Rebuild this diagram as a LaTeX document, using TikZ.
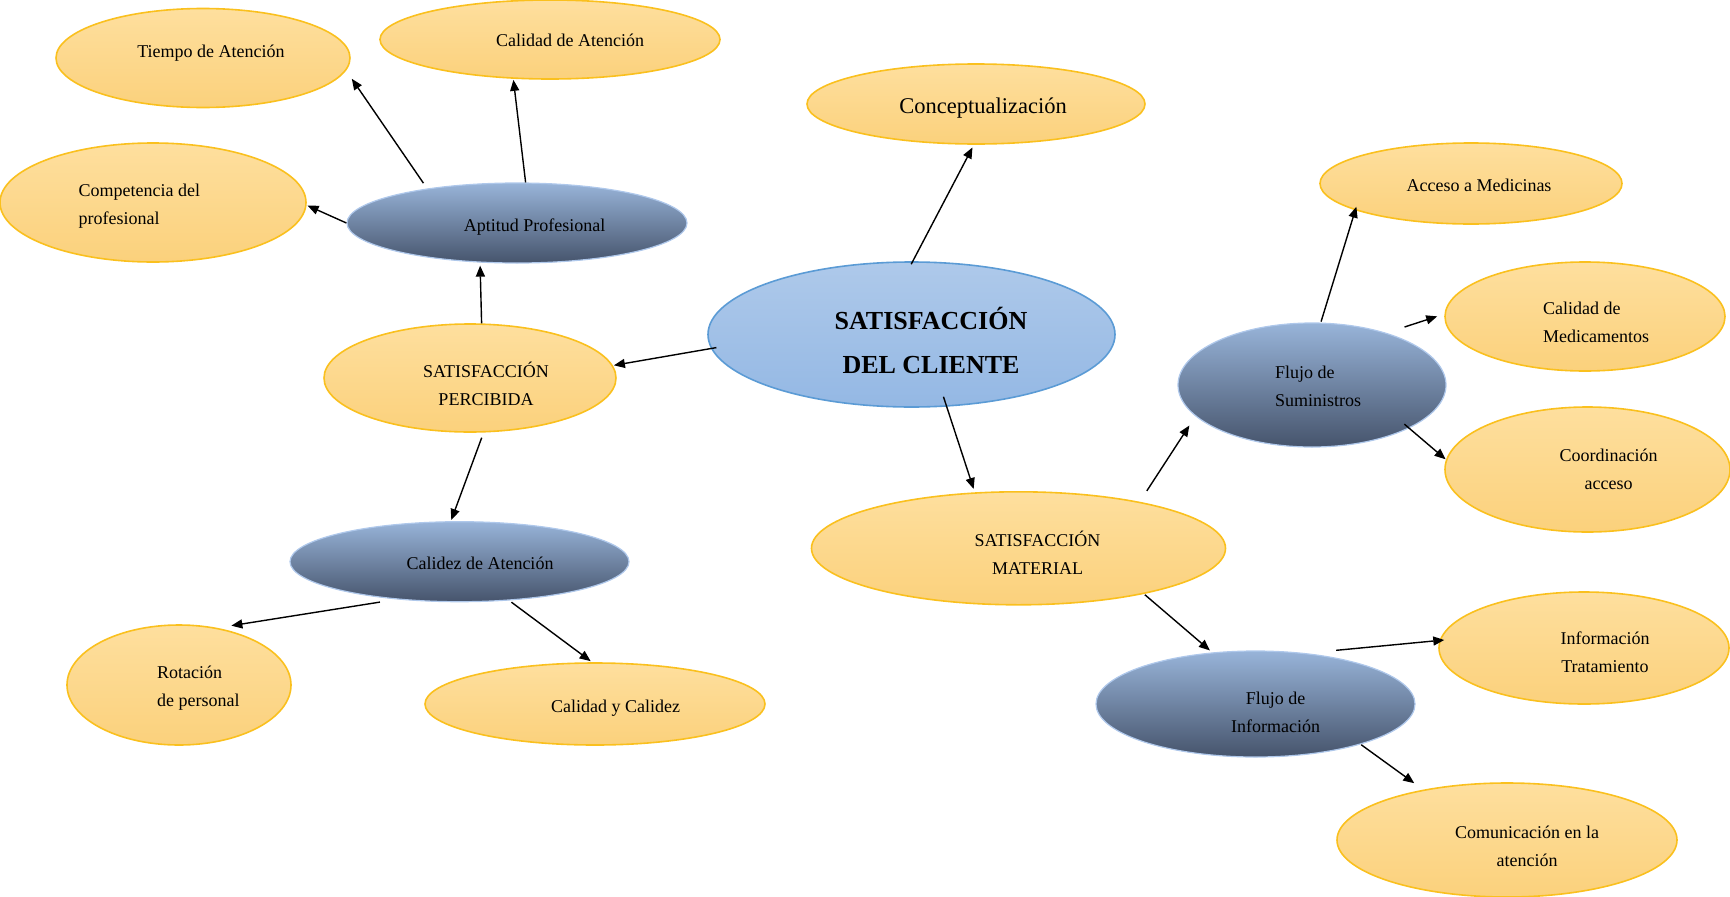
\documentclass[tikz,border=0pt]{standalone}
\usepackage{fontspec}
\setmainfont{Liberation Serif}
\usepackage{xcolor}
\usepackage{tikz}
\usetikzlibrary{shapes.geometric, arrows.meta, positioning}

\definecolor{orTop}{RGB}{254,223,158}
\definecolor{orBot}{RGB}{251,209,124}
\definecolor{orLine}{RGB}{250,192,30}
\definecolor{blTop}{RGB}{152,180,217}
\definecolor{blBot}{RGB}{70,84,108}
\definecolor{blLine}{RGB}{175,200,235}
\definecolor{ceTop}{RGB}{174,201,234}
\definecolor{ceBot}{RGB}{148,184,228}
\definecolor{ceLine}{RGB}{91,155,213}

\begin{document}
\begin{tikzpicture}[x=1pt, y=-1pt,
    bubble/.style={ellipse, draw=orLine, line width=1.6pt, top color=orTop, bottom color=orBot, inner sep=0pt},
    blob/.style={ellipse, draw=blLine, line width=1.2pt, top color=blTop, bottom color=blBot, inner sep=0pt},
    core/.style={ellipse, draw=ceLine, line width=1.6pt, top color=ceTop, bottom color=ceBot, inner sep=0pt},
    lbl/.style={inner sep=0pt, align=center, font=\fontsize{18}{28}\selectfont},
    arr/.style={-{Triangle[length=11pt,width=9pt]}, line width=1.4pt}]
    \useasboundingbox (0,0) rectangle (1730,897);

    \node[bubble, minimum width=294pt, minimum height=99pt] (tiempo) at (203,58) {};
    \node[bubble, minimum width=340pt, minimum height=79pt] (calAten) at (550,39.5) {};
    \node[bubble, minimum width=306pt, minimum height=119pt] (compet) at (153,202.5) {};
    \node[blob, minimum width=340pt, minimum height=80pt] (aptitud) at (517,223) {};
    \node[bubble, minimum width=338pt, minimum height=80pt] (concepto) at (976,104) {};
    \node[core, minimum width=407pt, minimum height=145pt] (cliente) at (911.5,334.5) {};
    \node[bubble, minimum width=292pt, minimum height=108pt] (percib) at (470,378) {};
    \node[blob, minimum width=339pt, minimum height=80pt] (calidez) at (459.5,561.7) {};
    \node[bubble, minimum width=224pt, minimum height=120pt] (rotacion) at (179,685) {};
    \node[bubble, minimum width=340pt, minimum height=82pt] (calycal) at (595,704) {};
    \node[bubble, minimum width=414pt, minimum height=113pt] (material) at (1018.5,548.3) {};
    \node[bubble, minimum width=302pt, minimum height=81pt] (acceso) at (1471,183.5) {};
    \node[bubble, minimum width=280pt, minimum height=109pt] (calMed) at (1585,316.5) {};
    \node[blob, minimum width=268pt, minimum height=124pt] (sumin) at (1312,385) {};
    \node[bubble, minimum width=285pt, minimum height=125pt] (coord) at (1587.5,469.5) {};
    \node[bubble, minimum width=290pt, minimum height=112pt] (infoTrat) at (1584,648) {};
    \node[blob, minimum width=319pt, minimum height=106pt] (fInfo) at (1255.5,704) {};
    \node[bubble, minimum width=340pt, minimum height=114pt] (comun) at (1507,840) {};

    \node[lbl] (tiempoT) at (211,53) {Tiempo de Atención};
    \node[lbl] (calAtenT) at (570,40) {Calidad de Atención};
    \node[lbl, align=left, anchor=west] (competT) at (78.5,206.5) {Competencia del\\profesional};
    \node[lbl] (aptitudT) at (534.5,227) {Aptitud Profesional};
    \node[lbl, font=\fontsize{22.5}{28}\selectfont] (conceptoT) at (983,108) {Conceptualización};
    \node[lbl, font=\fontsize{26}{44}\selectfont\bfseries] (clienteT) at (931,340) {SATISFACCIÓN\\DEL CLIENTE};
    \node[lbl] (percibT) at (486,384) {SATISFACCIÓN\\PERCIBIDA};
    \node[lbl] (calidezT) at (480,563.5) {Calidez de Atención};
    \node[lbl, align=left, anchor=west] (rotacionT) at (157,688) {Rotación\\de personal};
    \node[lbl] (calycalT) at (615.5,708) {Calidad y Calidez};
    \node[lbl] (materialT) at (1037.5,553) {SATISFACCIÓN\\MATERIAL};
    \node[lbl] (accesoT) at (1479,185) {Acceso a Medicinas};
    \node[lbl, align=left, anchor=west] (calMedT) at (1543,322.5) {Calidad de\\Medicamentos};
    \node[lbl, align=left, anchor=west] (suminT) at (1275,386) {Flujo de\\Suministros};
    \node[lbl] (coordT) at (1608.5,469) {Coordinación\\acceso};
    \node[lbl] (infoTratT) at (1605,652.5) {Información\\Tratamiento};
    \node[lbl] (fInfoT) at (1275.5,712.5) {Flujo de\\Información};
    \node[lbl] (comunT) at (1527,846) {Comunicación en la\\atención};

    \draw[arr, shorten <=6.5pt, shorten >=10pt] (aptitud.159) -- (tiempo.-5);
    \draw[arr, shorten >=1pt] (aptitud.78) -- (calAten.-133);
    \draw[arr, shorten >=1pt] (aptitud.180) -- (compet.-1);
    \draw[arr, shorten >=3pt] (percib.78.5) -- (aptitud.-133);
    \draw[arr, shorten <=-5.5pt, shorten >=1pt] (cliente.-176) -- (percib.5);
    \draw[arr, shorten <=-3.4pt, shorten >=3pt] (cliente.89.5) -- (concepto.-93.5);
    \draw[arr, shorten <=-10.5pt, shorten >=3.5pt] (cliente.-64.5) -- (material.128);
    \draw[arr, shorten <=5.5pt, shorten >=1.2pt] (percib.-76.6) -- (calidez.102);
    \draw[arr, shorten <=17pt, shorten >=14pt] (calidez.-149.5) -- (rotacion.56);
    \draw[arr, shorten <=2.8pt, shorten >=1.8pt] (calidez.-38) -- (calycal.94);
    \draw[arr, shorten <=13pt, shorten >=11pt] (material.21) -- (sumin.-165.5);
    \draw[arr, shorten <=1.2pt, shorten >=3pt] (material.-20) -- (fInfo.130);
    \draw[arr, shorten <=1pt, shorten >=-3.7pt] (sumin.82) -- (acceso.-167);
    \draw[arr, shorten <=19pt, shorten >=7.5pt] (sumin.35.4) -- (calMed.179);
    \draw[arr, shorten <=-6.4pt, shorten >=0.5pt] (sumin.-24.4) -- (coord.176);
    \draw[arr, shorten <=30pt, shorten >=-4.8pt] (fInfo.45) -- (infoTrat.177);
    \draw[arr, shorten <=0.6pt, shorten >=11pt] (fInfo.-21.3) -- (comun.149.4);
\end{tikzpicture}
\end{document}
